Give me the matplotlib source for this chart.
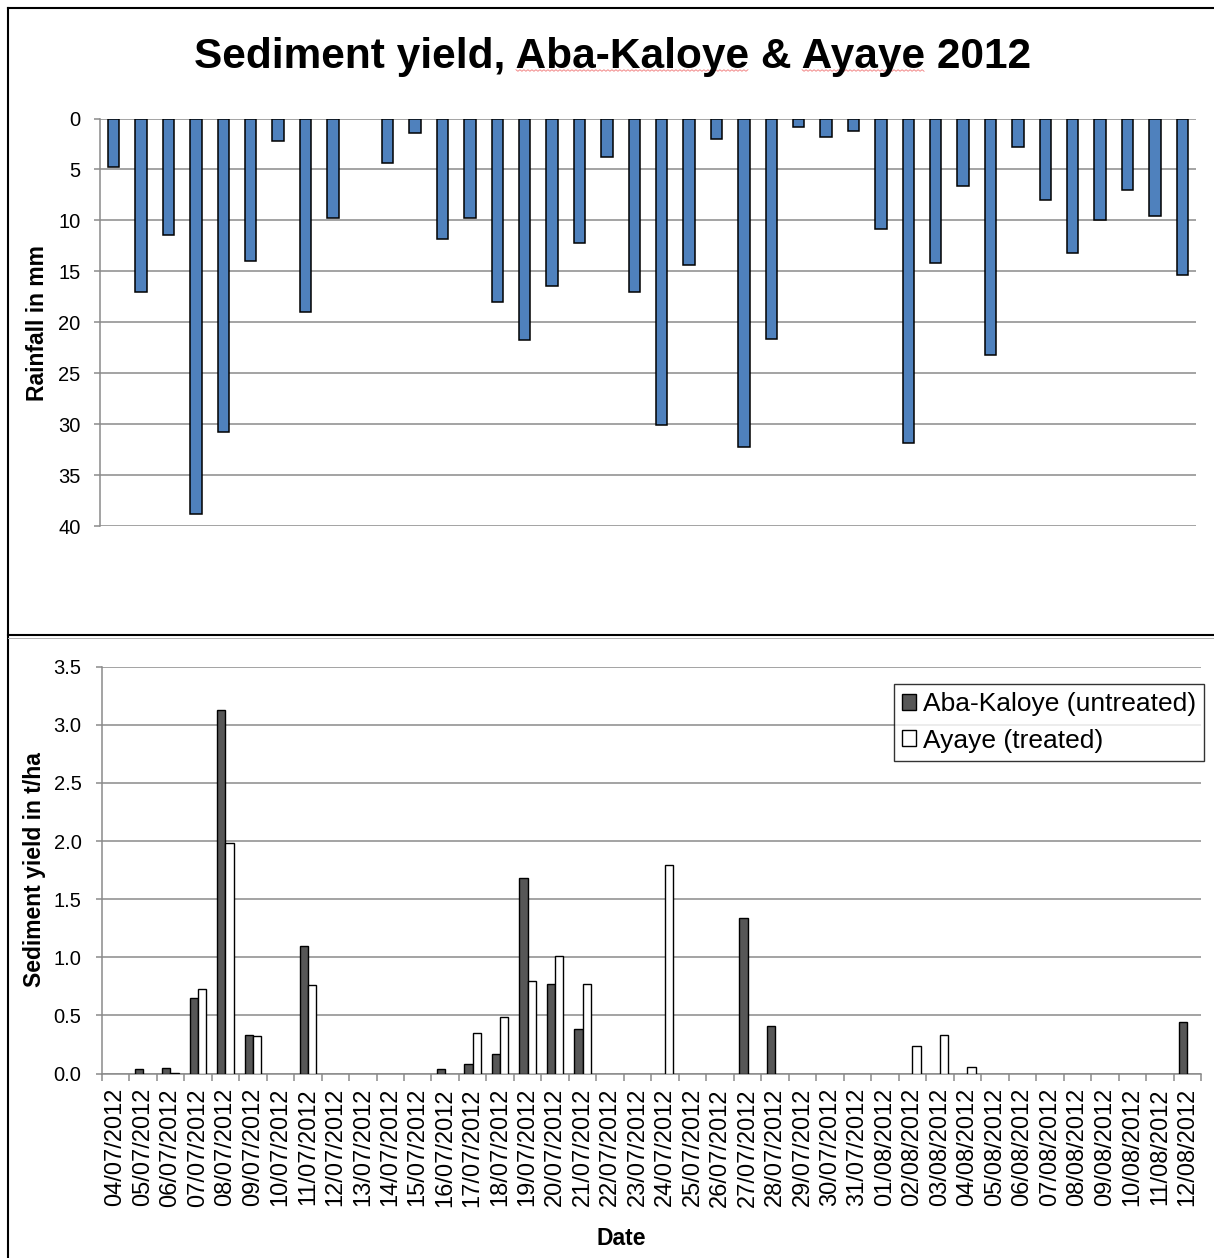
import matplotlib
matplotlib.use("Agg")
import matplotlib.pyplot as plt
import numpy as np
from matplotlib.lines import Line2D
from matplotlib.patches import Patch

plt.rcParams['font.family'] = ['Liberation Sans', 'DejaVu Sans']

# ---- data -------------------------------------------------------------
dates = [
    "04/07/2012", "05/07/2012", "06/07/2012", "07/07/2012", "08/07/2012",
    "09/07/2012", "10/07/2012", "11/07/2012", "12/07/2012", "13/07/2012",
    "14/07/2012", "15/07/2012", "16/07/2012", "17/07/2012", "18/07/2012",
    "19/07/2012", "20/07/2012", "21/07/2012", "22/07/2012", "23/07/2012",
    "24/07/2012", "25/07/2012", "26/07/2012", "27/07/2012", "28/07/2012",
    "29/07/2012", "30/07/2012", "31/07/2012", "01/08/2012", "02/08/2012",
    "03/08/2012", "04/08/2012", "05/08/2012", "06/08/2012", "07/08/2012",
    "08/08/2012", "09/08/2012", "10/08/2012", "11/08/2012", "12/08/2012",
]

rainfall_mm = [
    4.8, 17.0, 11.4, 38.8, 30.8, 14.0, 2.2, 19.0, 9.8, 0.0,
    4.4, 1.4, 11.8, 9.8, 18.0, 21.7, 16.4, 12.2, 3.8, 17.0,
    30.1, 14.4, 2.0, 32.2, 21.6, 0.8, 1.8, 1.25, 10.8, 31.9,
    14.2, 6.6, 23.2, 2.8, 8.0, 13.2, 10.0, 7.0, 9.6, 15.4,
]

sediment_untreated = [
    0.0, 0.04, 0.05, 0.65, 3.13, 0.33, 0.0, 1.10, 0.0, 0.0,
    0.0, 0.0, 0.04, 0.08, 0.17, 1.68, 0.77, 0.38, 0.0, 0.0,
    0.0, 0.0, 0.0, 1.34, 0.41, 0.0, 0.0, 0.0, 0.0, 0.0,
    0.0, 0.0, 0.0, 0.0, 0.0, 0.0, 0.0, 0.0, 0.0, 0.44,
]

sediment_treated = [
    0.0, 0.0, 0.005, 0.73, 1.98, 0.32, 0.0, 0.76, 0.0, 0.0,
    0.0, 0.0, 0.0, 0.35, 0.49, 0.80, 1.01, 0.77, 0.0, 0.0,
    1.79, 0.0, 0.0, 0.0, 0.0, 0.0, 0.0, 0.0, 0.0, 0.24,
    0.33, 0.06, 0.0, 0.0, 0.0, 0.0, 0.0, 0.0, 0.0, 0.0,
]

title = "Sediment yield, Aba-Kaloye & Ayaye 2012"
series_labels = ["Aba-Kaloye (untreated)", "Ayaye (treated)"]

# ---- styling ------------------------------------------------------------
W, H = 1214, 1258
DPI = 100
GRID = "#8a8a8a"
BLUE = "#4f81bd"
DARK = "#575757"


def fx(px):
    return px / W


def fy(py):
    return 1 - py / H


fig = plt.figure(figsize=(W / DPI, H / DPI), dpi=DPI)
fig.patch.set_facecolor("white")

x = np.arange(len(dates))
rain = np.asarray(rainfall_mm)
unt = np.asarray(sediment_untreated)
trt = np.asarray(sediment_treated)

# ---- rainfall panel (inverted) ----------------------------------------
ax1 = fig.add_axes([fx(100), fy(526), fx(1196 - 100), (526 - 118.5) / H])
m = rain > 0
ax1.bar(x[m], rain[m], width=0.41, color=BLUE, edgecolor="black",
        linewidth=1.1, zorder=3)
ax1.set_xlim(-0.5, len(dates) - 0.5)
ax1.set_ylim(40, 0)
ax1.set_yticks(np.arange(0, 41, 5))
ax1.set_xticks([])
ax1.grid(axis="y", color=GRID, linewidth=1.1, zorder=0)
for s in ["top", "right", "bottom"]:
    ax1.spines[s].set_visible(False)
ax1.spines["left"].set_color(GRID)
ax1.spines["left"].set_linewidth(1.1)
ax1.tick_params(axis="y", direction="out", length=4.5, width=1.1,
                color=GRID, labelsize=14.5, pad=9.5)

# ---- sediment panel -----------------------------------------------------
ax2 = fig.add_axes([fx(101.7), fy(1073.5), fx(1201 - 101.7), (1073.5 - 666.7) / H])
bw = 0.3
mu = unt > 0
mt = trt > 0
ax2.bar(x[mu] - bw / 2, unt[mu], width=bw, color=DARK, edgecolor="black",
        linewidth=1.0, zorder=3)
ax2.bar(x[mt] + bw / 2, trt[mt], width=bw, color="white", edgecolor="black",
        linewidth=1.0, zorder=3)
ax2.set_xlim(-0.5, len(dates) - 0.5)
ax2.set_ylim(0, 3.5)
ax2.set_yticks(np.arange(0, 3.51, 0.5))
ax2.set_yticklabels([f"{v:.1f}" for v in np.arange(0, 3.51, 0.5)])
ax2.grid(axis="y", color=GRID, linewidth=1.1, zorder=0)
for s in ["top", "right"]:
    ax2.spines[s].set_visible(False)
for s in ["left", "bottom"]:
    ax2.spines[s].set_color(GRID)
    ax2.spines[s].set_linewidth(1.1)
ax2.set_xticks(np.arange(-0.5, len(dates), 1.0))
ax2.set_xticklabels([])
ax2.set_xticks(x, minor=True)
ax2.set_xticklabels(dates, minor=True, rotation=90, fontsize=17)
ax2.tick_params(axis="x", which="major", direction="out", length=5,
                width=1.1, color=GRID)
ax2.tick_params(axis="x", which="minor", length=0, pad=10.5)
ax2.tick_params(axis="y", direction="out", length=4.5, width=1.1,
                color=GRID, labelsize=14.5, pad=10)

handles = [Patch(facecolor=DARK, edgecolor="black", linewidth=1.0),
           Patch(facecolor="white", edgecolor="black", linewidth=1.0)]
leg = fig.legend(handles, series_labels, loc="upper right",
                 bbox_to_anchor=(fx(1204), fy(684)), fontsize=19,
                 frameon=True, fancybox=False, edgecolor="black",
                 handlelength=0.55, handleheight=0.55, handletextpad=0.25,
                 labelspacing=0.48, borderpad=0.3, borderaxespad=0)
leg.get_frame().set_linewidth(1.0)

# ---- texts --------------------------------------------------------------
tt = fig.text(fx(613), fy(68), title, ha="center", va="baseline",
              fontsize=30.5, fontweight="bold")
fig.text(fx(38), fy(323), "Rainfall in mm", rotation=90, ha="center",
         va="center", fontsize=16.5, fontweight="bold")
fig.text(fx(35), fy(870), "Sediment yield in t/ha", rotation=90,
         ha="center", va="center", fontsize=16.5, fontweight="bold")
fig.text(fx(621), fy(1245), "Date", ha="center", va="baseline",
         fontsize=16.5, fontweight="bold")

# ---- chart frames ---------------------------------------------------------
frame_kw = dict(color="black", linewidth=1.5, transform=fig.transFigure)
fig.add_artist(Line2D([fx(7.5), 1.0], [fy(7.5), fy(7.5)], **frame_kw))
fig.add_artist(Line2D([fx(7.5), fx(7.5)], [fy(7.5), 0.0], **frame_kw))
fig.add_artist(Line2D([fx(7.5), 1.0], [fy(635), fy(635)], **frame_kw))
fig.add_artist(Line2D([fx(7.5), 1.0], [fy(637.5), fy(637.5)], color="#b0b0b0",
                      linewidth=0.7, transform=fig.transFigure))

# ---- wavy proofing underline beneath the two place names -------------------
fig.canvas.draw()
renderer = fig.canvas.get_renderer()


def width_of(s):
    t = fig.text(0, 0, s, fontsize=30.5, fontweight="bold")
    w = t.get_window_extent(renderer).width
    t.remove()
    return w


x0 = tt.get_window_extent(renderer).x0
spans = []
for prefix, word in [("Sediment yield, ", "Aba-Kaloye"),
                     ("Sediment yield, Aba-Kaloye & ", "Ayaye")]:
    start = x0 + width_of(prefix + word[0]) - width_of(word[0])
    end = x0 + width_of(prefix + word)
    spans.append((start, end))

y_line = H - 70.5
for a, b in spans:
    xs = np.arange(a, b, 2.0)
    ys = y_line + np.where(np.arange(len(xs)) % 2 == 0, 0.8, -0.8)
    fig.add_artist(Line2D(xs / W, ys / H, color="#f07a7a", linewidth=0.6,
                          transform=fig.transFigure))

fig.savefig("out.png", dpi=DPI, facecolor="white")
